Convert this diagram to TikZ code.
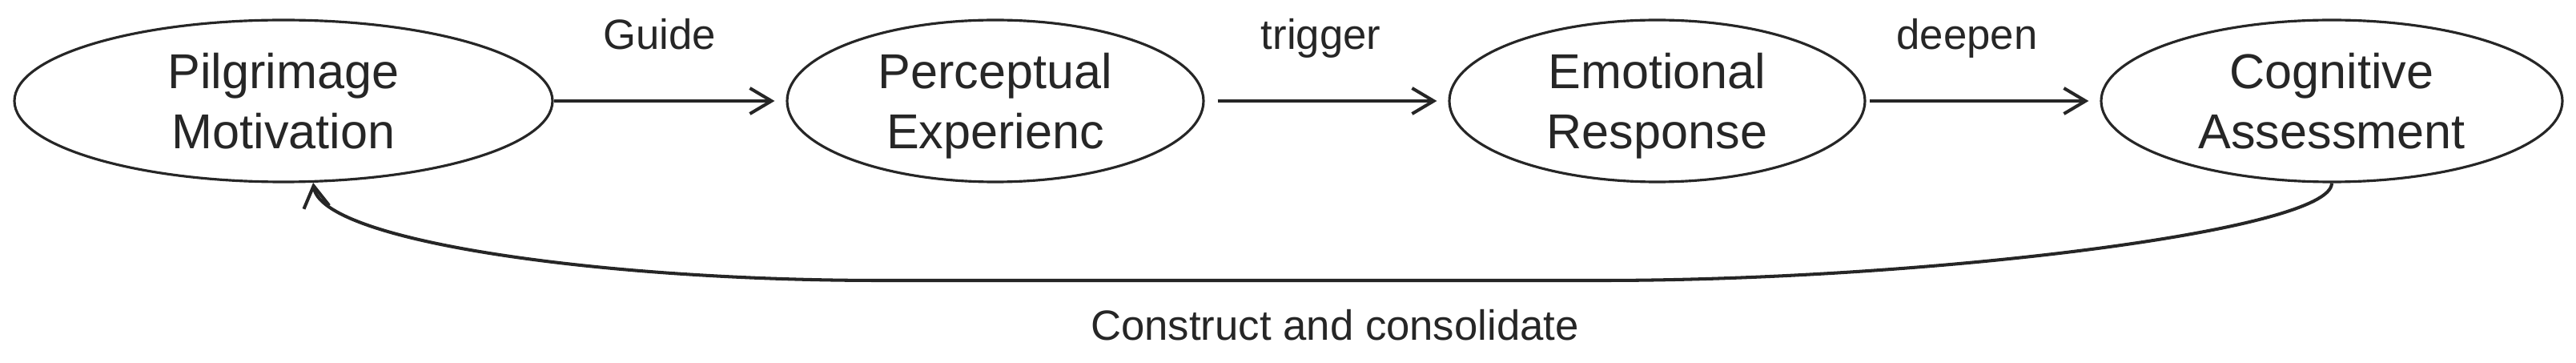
\documentclass[tikz,border=0pt]{standalone}
\usepackage{fontspec}
\setmainfont{Liberation Sans}
\usetikzlibrary{arrows.meta,shapes.geometric}
\tikzset{
    line color/.style={black!85},
    stage/.style={ellipse,draw,line color,line width=0.9pt,inner sep=0pt,minimum height=2.02cm,
        align=center,font=\fontsize{17.4}{21.3}\selectfont,text height=33.8pt,text depth=0pt},
    arr/.style={->,>={Straight Barb[length=0.27cm,width=0.32cm]},line color,line width=1.15pt},
    arr label/.style={font=\fontsize{15}{18}\selectfont,anchor=base,text=black!85},
}

\begin{document}
\begin{tikzpicture}
    \useasboundingbox (0,0) rectangle (32.17,4.53);
    \node[stage,minimum width=6.72cm] (pil) at (3.54,3.27) {Pilgrimage\\Motivation};
    \node[stage,minimum width=5.20cm] (per) at (12.43,3.27) {Perceptual\\Experienc};
    \node[stage,minimum width=5.19cm] (emo) at (20.695,3.27) {Emotional\\Response};
    \node[stage,minimum width=5.76cm] (cog) at (29.12,3.27) {Cognitive\\Assessment};
    \draw[arr,shorten >=0.14cm] (pil) -- (per) node[arr label,midway,xshift=-0.13cm,yshift=0.64cm] {Guide};
    \draw[arr,shorten <=0.16cm,shorten >=0.14cm] (per) -- (emo) node[arr label,midway,xshift=-0.07cm,yshift=0.64cm] {trigger};
    \draw[arr,shorten <=0.04cm,shorten >=0.14cm] (emo) -- (cog) node[arr label,midway,xshift=-0.2cm,yshift=0.64cm] {deepen};
    % way back along the bottom
    \coordinate (loopR) at (20,1.03);
    \coordinate (loopL) at (11,1.03);
    \draw[arr] (cog.south) .. controls +(0,-0.6) and +(4,0) .. (loopR)
        -- node[arr label,pos=.37,yshift=-0.75cm] {Construct and consolidate} (loopL)
        .. controls +(-3.5,0) and +(0.1,-0.73) .. (pil.-70);
\end{tikzpicture}
\end{document}
